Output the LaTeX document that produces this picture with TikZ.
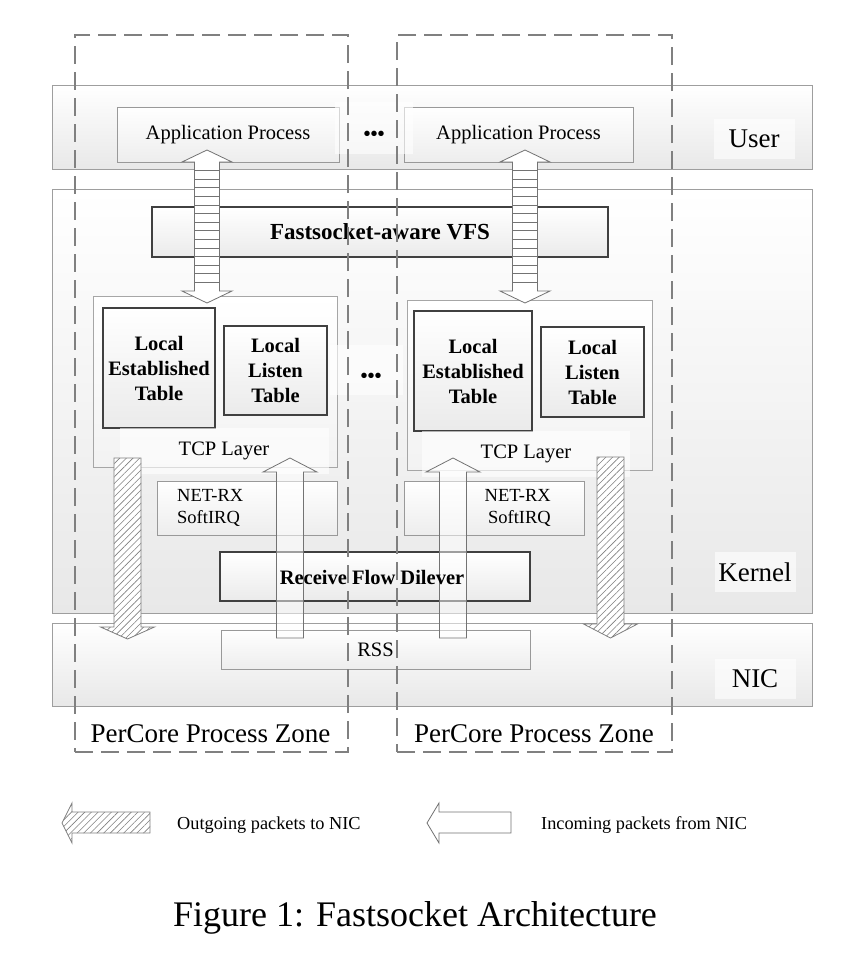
\documentclass[tikz,border=0pt]{standalone}
\usepackage{fontspec}
\setmainfont{Liberation Serif}
\usetikzlibrary{patterns.meta}
\newcommand{\fsz}[2]{\fontsize{#1}{#2}\selectfont}
\newcommand{\fsDbl}[1]{%
  \draw[dblarrow] (#1-12.5,162) -- (#1-25,162) -- (#1,150) -- (#1+25,162) -- (#1+12.5,162)
     -- (#1+12.5,291) -- (#1+25,291) -- (#1,303) -- (#1-25,291) -- (#1-12.5,291) -- cycle;
  \foreach \k in {1,...,14} {\draw[stripe] (#1-12.5,162+\k*8.6) -- (#1+12.5,162+\k*8.6);}
}
\newcommand{\fsUp}[1]{%
  \draw[uparr] (#1-13.5,638) -- (#1-13.5,472) -- (#1-27,472) -- (#1,458) -- (#1+27,472)
     -- (#1+13.5,472) -- (#1+13.5,638) -- cycle;
}
\newcommand{\fsDown}[4]{%
  \draw[hatcharr] (#1-13.5,#2) -- (#1+13.5,#2) -- (#1+13.5,#3) -- (#1+27,#3) -- (#1,#4)
     -- (#1-27,#3) -- (#1-13.5,#3) -- cycle;
}
\begin{document}
\begin{tikzpicture}[x=1pt,y=-1pt,
  layer/.style={draw=black!38, line width=0.9pt, top color=white, bottom color=black!9, inner sep=0pt},
  lbl/.style={fill=white, fill opacity=0.6, text opacity=1, inner sep=0pt, minimum width=81pt, minimum height=40pt, font=\fsz{27}{30}},
  procbox/.style={draw=black!40, line width=0.8pt, top color=white, bottom color=black!7, inner sep=0pt},
  tcpbox/.style={draw=black!35, line width=0.8pt, top color=white, bottom color=black!5, inner sep=0pt},
  thickbox/.style={draw=black!75, line width=2.2pt, top color=white, bottom color=black!8, inner sep=0pt, align=center, font=\fsz{20.5}{25}\bfseries},
  lightbg/.style={fill=white, fill opacity=0.6, text opacity=1, inner sep=0pt},
  zone/.style={draw=black!50, line width=1.8pt, dash pattern=on 18pt off 8pt, inner sep=0pt},
  dblarrow/.style={draw=black!55, line width=0.8pt, fill=white},
  stripe/.style={draw=black!55, line width=0.8pt},
  uparr/.style={draw=black!55, line width=0.8pt, fill=white, fill opacity=0.5},
  hatcharr/.style={draw=black!50, line width=0.8pt, preaction={fill=white},
     pattern={Lines[angle=45,distance=4.7pt,line width=0.6pt]}, pattern color=black!50},
  txt/.style={inner sep=0pt, font=\fsz{20.5}{25}},
]
\useasboundingbox (0,0) rectangle (844,970);
% layers
\node[layer, minimum width=760pt, minimum height=84pt] (user) at (432,127) {};
\node[layer, minimum width=760pt, minimum height=424pt] (kernel) at (432,401) {};
\node[layer, minimum width=760pt, minimum height=83pt] (nic) at (432,664.5) {};
\node[lbl] (userlbl) at (754,139) {User};
\node[lbl] (kernellbl) at (755,572) {Kernel};
\node[lbl] (niclbl) at (755,679) {NIC};
% user space
\node[procbox, minimum width=222pt, minimum height=55pt, font=\fsz{20.5}{24}] (app1) at (228,134.5) {Application Process};
\node[procbox, minimum width=229pt, minimum height=55pt, font=\fsz{20.5}{24}] (app2) at (518.5,134.5) {Application Process};
\node[lightbg, minimum width=78pt, minimum height=52pt] (dotsbgA) at (374,128) {};
\node[txt, font=\fsz{20}{24}\bfseries] (dotsA) at (374,136) {•••};
% kernel
\node[thickbox, minimum width=456pt, minimum height=50pt, font=\fsz{23}{27}\bfseries] (vfs) at (380,232) {Fastsocket-aware VFS};
\node[tcpbox, minimum width=244pt, minimum height=171pt] (tcp1) at (215,381.5) {};
\node[tcpbox, minimum width=245pt, minimum height=170pt] (tcp2) at (529.5,385) {};
\node[lightbg, minimum width=73pt, minimum height=50pt] (dotsbgB) at (366.5,370) {};
\node[txt, font=\fsz{20}{24}\bfseries] (dotsB) at (371,378) {•••};
\node[thickbox, minimum width=112pt, minimum height=120pt] (let1) at (159,368) {Local\\Established\\Table};
\node[thickbox, minimum width=103pt, minimum height=89pt] (llt1) at (275.5,370.5) {Local\\Listen\\Table};
\node[thickbox, minimum width=118pt, minimum height=120pt] (let2) at (473,371) {Local\\Established\\Table};
\node[thickbox, minimum width=103pt, minimum height=90pt] (llt2) at (592.5,372) {Local\\Listen\\Table};
\node[lightbg, minimum width=209pt, minimum height=46pt, font=\fsz{20.5}{24}] (tcplbl1) at (224,451) {TCP Layer};
\node[lightbg, minimum width=208pt, minimum height=46pt, font=\fsz{20.5}{24}] (tcplbl2) at (526,454) {TCP Layer};
\node[procbox, minimum width=180pt, minimum height=54pt] (netrx1) at (247,508) {};
\node[procbox, minimum width=180pt, minimum height=54pt] (netrx2) at (494,508) {};
\node[txt, font=\fsz{18.5}{22}, align=left, anchor=west] (netrx1t) at (177,508) {NET-RX\\SoftIRQ};
\node[txt, font=\fsz{18.5}{22}, align=right, anchor=east] (netrx2t) at (551,508) {NET-RX\\SoftIRQ};
\node[thickbox, minimum width=310pt, minimum height=49pt] (rfd) at (375,576.5) {};
% NIC
\node[procbox, minimum width=309pt, minimum height=39pt, font=\fsz{20.5}{24}] (rss) at (375.5,649.5) {RSS};
% per-core zones
\node[zone, minimum width=273pt, minimum height=717pt] (zone1) at (211.5,393.5) {};
\node[zone, minimum width=275pt, minimum height=717pt] (zone2) at (534.5,393.5) {};
\node[txt, font=\fsz{27}{30}] (zone1t) at (210.5,734) {PerCore Process Zone};
\node[txt, font=\fsz{27}{30}] (zone2t) at (534,734) {PerCore Process Zone};
% arrows
\fsDbl{207}
\fsDbl{525}
\fsUp{290}
\fsUp{453}
\fsDown{127.5}{458}{627}{639}
\fsDown{610.5}{457}{624}{638}
\node[txt, font=\fsz{20.5}{25}\bfseries] (rfdt) at (372,577) {Receive Flow Dilever};
% legend
\draw[hatcharr] (150,812) -- (72,812) -- (72,803) -- (62,823) -- (72,843) -- (72,833) -- (150,833) -- cycle;
\node[txt, font=\fsz{18.3}{22}, anchor=west] (legout) at (177,825) {Outgoing packets to NIC};
\draw[dblarrow] (511,812) -- (439,812) -- (439,803) -- (427,823) -- (439,843) -- (439,833) -- (511,833) -- cycle;
\node[txt, font=\fsz{18.3}{22}, anchor=west] (legin) at (541,825) {Incoming packets from NIC};
% caption
\node[txt, font=\fsz{36}{40}] (caption) at (415,918) {Figure 1: Fastsocket Architecture};
\end{tikzpicture}
\end{document}
